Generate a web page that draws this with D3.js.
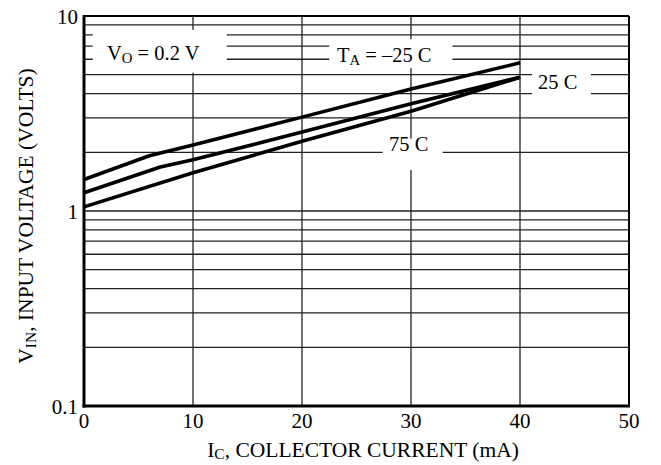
<!DOCTYPE html>
<html>
<head>
<meta charset="utf-8">
<script src="https://cdn.jsdelivr.net/npm/d3@7"></script>
<style>
  html, body { margin: 0; padding: 0; background: #fff; }
  svg { display: block; }
  text { font-family: "Liberation Serif", "Times New Roman", serif; fill: #000; }
</style>
</head>
<body>
<svg id="chart" width="661" height="465"></svg>
<script>
// ---- data ----
const xTicks = [0, 10, 20, 30, 40, 50];
const yTickLabels = [0.1, 1, 10];
const yGrid = [0.2, 0.3, 0.4, 0.5, 0.6, 0.7, 0.8, 0.9, 1, 2, 3, 4, 5, 6, 7, 8, 9];
const xGrid = [10, 20, 30, 40];

const seriesNames = ["-25", "25", "75"];
const ic_m25 = [0, 6, 10, 20, 30, 40];
const vin_m25 = [1.45, 1.92, 2.18, 3.03, 4.22, 5.75];
const ic_25 = [0, 7, 10, 20, 30, 40];
const vin_25 = [1.24, 1.68, 1.83, 2.54, 3.55, 4.85];
const ic_75 = [0, 10, 20, 30, 40];
const vin_75 = [1.05, 1.57, 2.28, 3.25, 4.85];

// ---- layout ----
const svg = d3.select("#chart");
const x = d3.scaleLinear().domain([0, 50]).range([84, 629]);
const y = d3.scaleLog().domain([0.1, 10]).range([406, 16]);

// grid
const grid = svg.append("g").attr("stroke", "#222").attr("stroke-width", 1.3);
grid.selectAll("line.h").data(yGrid).join("line")
  .attr("x1", x(0)).attr("x2", x(50))
  .attr("y1", d => y(d)).attr("y2", d => y(d));
grid.selectAll("line.v").data(xGrid).join("line")
  .attr("x1", d => x(d)).attr("x2", d => x(d))
  .attr("y1", y(0.1)).attr("y2", y(10));

// label boxes (white backgrounds that cut the grid)
const boxes = [
  {x0: 0.8, x1: 13.1, y0: 8.5, y1: 5.12},
  {x0: 22.5, x1: 33.8, y0: 7.6, y1: 5.4},
  {x0: 41.1, x1: 46.5, y0: 5.3, y1: 3.9},
  {x0: 27.4, x1: 32.9, y0: 2.35, y1: 1.62}
];
svg.append("g").selectAll("rect").data(boxes).join("rect")
  .attr("x", d => x(d.x0)).attr("y", d => y(d.y0))
  .attr("width", d => x(d.x1) - x(d.x0)).attr("height", d => y(d.y1) - y(d.y0))
  .attr("fill", "#fff");

// frame
svg.append("line").attr("x1", x(0)).attr("x2", x(50)).attr("y1", y(10)).attr("y2", y(10))
  .attr("stroke", "#000").attr("stroke-width", 2);
svg.append("line").attr("x1", x(50)).attr("x2", x(50)).attr("y1", y(10)).attr("y2", y(0.1))
  .attr("stroke", "#000").attr("stroke-width", 2);
svg.append("line").attr("x1", x(0)).attr("x2", x(0)).attr("y1", y(10) - 1).attr("y2", y(0.1) + 1.5)
  .attr("stroke", "#000").attr("stroke-width", 3);
svg.append("line").attr("x1", x(0) - 1.5).attr("x2", x(50) + 1).attr("y1", y(0.1)).attr("y2", y(0.1))
  .attr("stroke", "#000").attr("stroke-width", 3);

// curves
const series = [
  {name: seriesNames[0], xs: ic_m25, ys: vin_m25},
  {name: seriesNames[1], xs: ic_25, ys: vin_25},
  {name: seriesNames[2], xs: ic_75, ys: vin_75}
];
const line = d3.line().x(d => x(d[0])).y(d => y(d[1]));
svg.append("g").selectAll("path").data(series).join("path")
  .attr("d", s => line(s.xs.map((v, i) => [v, s.ys[i]])))
  .attr("fill", "none").attr("stroke", "#000").attr("stroke-width", 3.6)
  .attr("stroke-linejoin", "round");

// tick labels
svg.append("g").selectAll("text").data(xTicks).join("text")
  .attr("x", d => x(d)).attr("y", 428)
  .attr("text-anchor", "middle").attr("font-size", 21)
  .text(d => d);
svg.append("g").selectAll("text").data(yTickLabels).join("text")
  .attr("x", 78).attr("y", d => y(d) + 8)
  .attr("text-anchor", "end").attr("font-size", 21)
  .text(d => d);

// annotations
function subText(g, xp, yp, main, sub, rest, anchor, fs, sh) {
  fs = fs || 20.5;
  sh = sh == null ? 3 : sh;
  const t = g.append("text").attr("x", xp).attr("y", yp)
    .attr("font-size", fs).attr("text-anchor", anchor || "start");
  t.append("tspan").text(main);
  t.append("tspan").attr("font-size", fs * 0.72).attr("dy", sh).text(sub);
  t.append("tspan").attr("dy", -sh).text(rest);
  return t;
}
const ann = svg.append("g");
subText(ann, 107, 60, "V", "O", " = 0.2 V");
subText(ann, 337, 62, "T", "A", " = \u201325  C");
ann.append("text").attr("x", 538).attr("y", 89).attr("font-size", 20.5).text("25  C");
ann.append("text").attr("x", 389).attr("y", 151).attr("font-size", 20.5).text("75  C");

// axis titles
subText(svg, 363, 457, "I", "C", ", COLLECTOR CURRENT (mA)", "middle", 21.5, 1.5);
const yt = svg.append("g").attr("transform", "translate(33,216) rotate(-90)");
subText(yt, 0, 0, "V", "IN", ", INPUT VOLTAGE (VOLTS)", "middle", 21.5);
</script>
</body>
</html>
